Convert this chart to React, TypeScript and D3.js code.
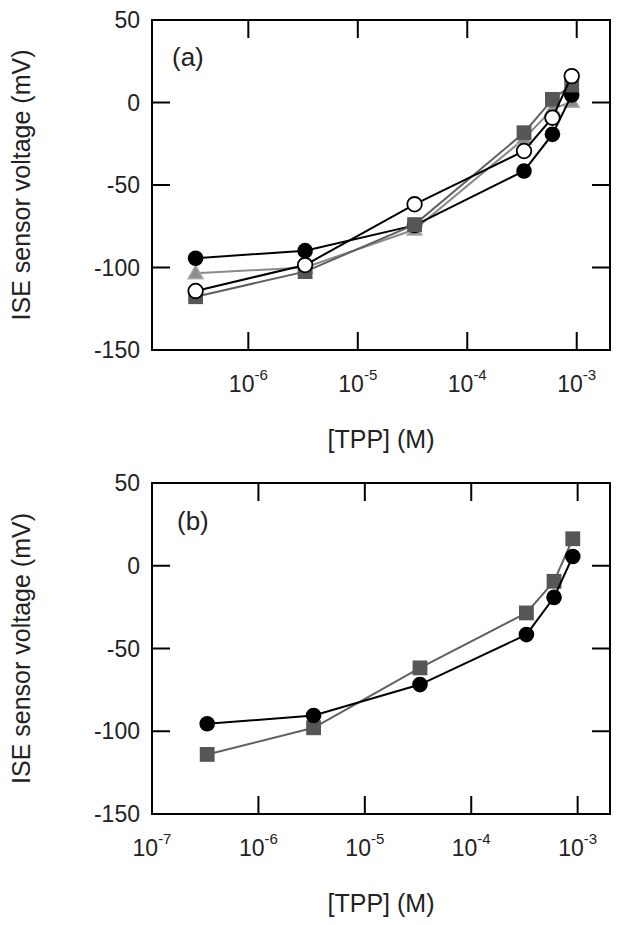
import React from "react";
import * as d3 from "d3";

const conc = [3.3e-7, 3.3e-6, 3.3e-5, 3.3e-4, 6e-4, 9e-4];

const blackCircleA = [-94.4, -89.8, -74.5, -41.5, -19.3, 4.5];
const triangleA = [-103.5, -100, -77, -22, -4, 0.5];
const greySquareA = [-117.7, -102.5, -74, -18.3, 1.9, 10.6];
const whiteCircleA = [-114.2, -98.5, -61.7, -29.4, -9.2, 16];

const blackCircleB = [-95.5, -90.5, -71.8, -41.6, -19.1, 5.6];
const greySquareB = [-114, -97.9, -61.7, -28.5, -9.4, 16.3];

const yTicks = [50, 0, -50, -100, -150];
const xTickExps = [-7, -6, -5, -4, -3];

type Series = { values: number[]; marker: "circleBlack" | "circleWhite" | "square" | "triangle"; line: string };

const FONT = "'Liberation Sans', Arial, Helvetica, sans-serif";

function Panel({
  top,
  bottom,
  left,
  right,
  xMinExp,
  label,
  labelX,
  labelY,
  series,
  showMinus7,
}: {
  top: number;
  bottom: number;
  left: number;
  right: number;
  xMinExp: number;
  label: string;
  labelX: number;
  labelY: number;
  series: Series[];
  showMinus7: boolean;
}) {
  const x = d3.scaleLog().domain([Math.pow(10, xMinExp), Math.pow(10, -2.696)]).range([left, right]);
  const y = d3.scaleLinear().domain([-150, 50]).range([bottom, top]);
  const tickLen = 18;
  const line = d3
    .line<number>()
    .x((_, i) => x(conc[i]))
    .y((d) => y(d));
  const tickLabelY = bottom + 42;
  const cy = (top + bottom) / 2;
  const cx = (left + right) / 2;

  const ticksX = xTickExps.filter((e) => Math.pow(10, e) >= Math.pow(10, xMinExp) - 1e-12);

  return (
    <g>
      {series.map((s, si) => (
        <g key={si}>
          <path d={line(s.values) || ""} fill="none" stroke={s.line} strokeWidth={2} />
          {s.values.map((v, i) => {
            const px = x(conc[i]);
            const py = y(v);
            if (s.marker === "circleBlack")
              return <circle key={i} cx={px} cy={py} r={7.8} fill="#000" />;
            if (s.marker === "circleWhite")
              return <circle key={i} cx={px} cy={py} r={7.3} fill="#fff" stroke="#000" strokeWidth={1.8} />;
            if (s.marker === "square")
              return <rect key={i} x={px - 7.4} y={py - 7.4} width={14.8} height={14.8} fill="#565656" />;
            const h = 14;
            const pts = d3.line()([
              [px, py - h * 0.6],
              [px + h * 0.55, py + h * 0.4],
              [px - h * 0.55, py + h * 0.4],
              [px, py - h * 0.6],
            ]);
            return <path key={i} d={(pts || "") + "Z"} fill="#8e8e8e" stroke="#b0b0b0" strokeWidth={1.2} />;
          })}
        </g>
      ))}
      <rect x={left} y={top} width={right - left} height={bottom - top} fill="none" stroke="#000" strokeWidth={2} />
      {ticksX.map((e) => {
        const px = x(Math.pow(10, e));
        const inside = px > left + 1;
        return (
          <g key={e}>
            {inside && (
              <>
                <line x1={px} x2={px} y1={bottom} y2={bottom - tickLen} stroke="#000" strokeWidth={2} />
                <line x1={px} x2={px} y1={top} y2={top + tickLen} stroke="#000" strokeWidth={2} />
              </>
            )}
            {(inside || showMinus7) && (
              <text x={px} y={tickLabelY} textAnchor="middle" fontFamily={FONT} fontSize={23} fill="#222">
                10
                <tspan fontSize={15} dy={-12}>
                  {String(e)}
                </tspan>
              </text>
            )}
          </g>
        );
      })}
      {yTicks.map((t) => {
        const py = y(t);
        const inside = py > top + 1 && py < bottom - 1;
        return (
          <g key={t}>
            {inside && (
              <>
                <line x1={left} x2={left + tickLen} y1={py} y2={py} stroke="#000" strokeWidth={2} />
                <line x1={right} x2={right - tickLen} y1={py} y2={py} stroke="#000" strokeWidth={2} />
              </>
            )}
            <text x={left - 12} y={py + 8.2} textAnchor="end" fontFamily={FONT} fontSize={23} fill="#222">
              {String(t)}
            </text>
          </g>
        );
      })}
      <text x={cx} y={bottom + 98} textAnchor="middle" fontFamily={FONT} fontSize={25} fill="#222">
        [TPP] (M)
      </text>
      <text
        transform={`translate(30, ${cy}) rotate(-90)`}
        textAnchor="middle"
        fontFamily={FONT}
        fontSize={25}
        fill="#222"
      >
        ISE sensor voltage (mV)
      </text>
      <text x={labelX} y={labelY} fontFamily={FONT} fontSize={26} fill="#222">
        {label}
      </text>
    </g>
  );
}

export default function App() {
  const seriesA: Series[] = [
    { values: triangleA, marker: "triangle", line: "#8a8a8a" },
    { values: blackCircleA, marker: "circleBlack", line: "#000" },
    { values: greySquareA, marker: "square", line: "#606060" },
    { values: whiteCircleA, marker: "circleWhite", line: "#000" },
  ];
  const seriesB: Series[] = [
    { values: greySquareB, marker: "square", line: "#606060" },
    { values: blackCircleB, marker: "circleBlack", line: "#000" },
  ];
  return (
    <svg
      width={622}
      height={925}
      viewBox="0 0 622 925"
      style={{ position: "absolute", left: 0, top: 0, background: "#fff" }}
    >
      <rect x={0} y={0} width={622} height={925} fill="#fff" />
      <Panel
        top={20}
        bottom={350}
        left={152}
        right={610}
        xMinExp={-6.88}
        label="(a)"
        labelX={172}
        labelY={66}
        series={seriesA}
        showMinus7={false}
      />
      <Panel
        top={483}
        bottom={814}
        left={152}
        right={610}
        xMinExp={-7}
        label="(b)"
        labelX={177}
        labelY={530}
        series={seriesB}
        showMinus7={true}
      />
    </svg>
  );
}
